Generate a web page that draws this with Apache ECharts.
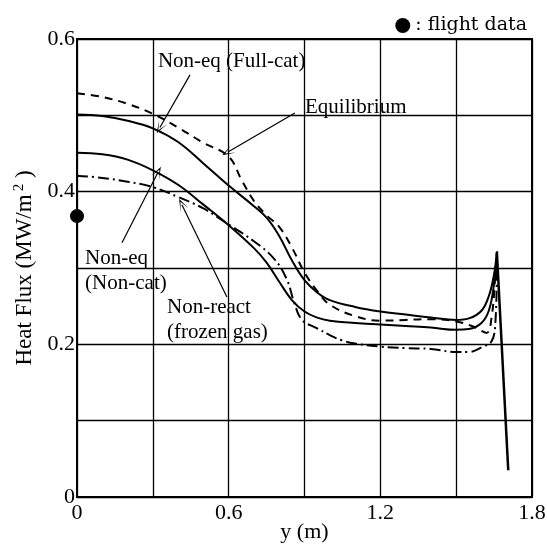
<!DOCTYPE html>
<html>
<head>
<meta charset="utf-8">
<script src="https://cdn.jsdelivr.net/npm/echarts@6/dist/echarts.min.js"></script>
<style>
html, body { margin: 0; padding: 0; background: #fff; }
#chart { width: 547px; height: 547px; }
</style>
</head>
<body>
<div id="chart"></div>
<script>
// curves, [y (m), heat flux (MW/m2)]
var fullCat = [[0, 0.501], [0.1, 0.499], [0.2, 0.493], [0.3, 0.483], [0.4, 0.465], [0.5, 0.437], [0.6, 0.408],
    [0.7, 0.381], [0.75, 0.366], [0.8, 0.342], [0.85, 0.310], [0.9, 0.284], [0.95, 0.268], [1.0, 0.258],
    [1.1, 0.249], [1.2, 0.243], [1.3, 0.239], [1.4, 0.235], [1.5, 0.232], [1.55, 0.234], [1.6, 0.244],
    [1.63, 0.264], [1.65, 0.292], [1.661, 0.321]];
var nonCat = [[0, 0.451], [0.1, 0.449], [0.2, 0.442], [0.3, 0.428], [0.4, 0.409], [0.5, 0.383], [0.6, 0.356],
    [0.7, 0.326], [0.75, 0.307], [0.8, 0.282], [0.85, 0.258], [0.9, 0.243], [0.95, 0.235], [1.0, 0.231],
    [1.1, 0.228], [1.2, 0.226], [1.3, 0.224], [1.4, 0.222], [1.5, 0.219], [1.55, 0.220], [1.6, 0.228],
    [1.63, 0.245], [1.65, 0.280], [1.661, 0.318]];
var equilibrium = [[0, 0.529], [0.1, 0.524], [0.2, 0.515], [0.3, 0.502], [0.4, 0.484], [0.5, 0.464], [0.6, 0.446],
    [0.65, 0.416], [0.7, 0.388], [0.75, 0.369], [0.8, 0.354], [0.85, 0.327], [0.9, 0.294], [0.95, 0.270],
    [1.0, 0.252], [1.1, 0.237], [1.2, 0.231], [1.3, 0.232], [1.4, 0.233], [1.5, 0.230], [1.57, 0.223],
    [1.62, 0.215], [1.64, 0.235], [1.655, 0.290], [1.662, 0.322]];
var nonReact = [[0, 0.421], [0.1, 0.418], [0.2, 0.413], [0.3, 0.406], [0.4, 0.393], [0.5, 0.378], [0.6, 0.357],
    [0.7, 0.335], [0.78, 0.312], [0.83, 0.285], [0.86, 0.254], [0.89, 0.232], [0.95, 0.221], [1.0, 0.212],
    [1.05, 0.205], [1.1, 0.201], [1.2, 0.197], [1.3, 0.195], [1.4, 0.194], [1.5, 0.190], [1.55, 0.190],
    [1.6, 0.196], [1.64, 0.204], [1.655, 0.228], [1.661, 0.300]];
// shared fall-off after the peak
var dropOff = [[1.661, 0.321], [1.706, 0.035]];
var flightData = [[0, 0.368]];

var xLabels = ['0', '0.6', '1.2', '1.8'];
var yLabels = ['0', '0.2', '0.4', '0.6'];

// text notes and arrows, in data units
var notes = [
    { text: 'Non-eq (Full-cat)', at: [0.32, 0.570] },
    { text: 'Equilibrium', at: [0.902, 0.510] },
    { text: 'Non-eq', at: [0.032, 0.312] },
    { text: '(Non-cat)', at: [0.032, 0.280] },
    { text: 'Non-react', at: [0.356, 0.248] },
    { text: '(frozen gas)', at: [0.356, 0.216] }
];
var arrows = [
    [[0.447, 0.553], [0.328, 0.484]],
    [[0.862, 0.503], [0.597, 0.452]],
    [[0.178, 0.333], [0.320, 0.425]],
    [[0.593, 0.262], [0.415, 0.383]]
];

var serif = '"Liberation Serif", "Times New Roman", serif';
var chartDom = document.getElementById('chart');
var myChart = echarts.init(chartDom);

function curve(name, data, type) {
    return {
        name: name,
        type: 'line',
        data: data,
        showSymbol: false,
        smooth: 0.4,
        silent: true,
        lineStyle: { color: '#000', width: 2, type: type }
    };
}

var option = {
    animation: false,
    backgroundColor: '#fff',
    grid: {
        left: 77, right: 15, top: 39, bottom: 50,
        outerBoundsMode: 'none',
        show: true, borderColor: '#000', borderWidth: 2
    },
    legend: {
        right: 15, top: 11,
        data: [': flight data'],
        icon: 'circle',
        itemWidth: 15, itemHeight: 15, itemGap: 12,
        itemStyle: { opacity: 1 },
        textStyle: { fontFamily: '"DejaVu Serif", serif', fontSize: 19, color: '#000' }
    },
    xAxis: {
        type: 'value',
        min: 0, max: 1.8, interval: 0.3,
        name: 'y (m)',
        nameLocation: 'middle',
        nameGap: 24,
        nameMoveOverlap: false,
        nameTextStyle: { fontFamily: serif, fontSize: 22, color: '#000' },
        axisLine: { show: true, lineStyle: { color: '#000', width: 2 } },
        axisTick: { show: false },
        axisLabel: {
            margin: 5,
            fontFamily: serif, fontSize: 22, color: '#000',
            formatter: function (v) {
                var s = String(+v.toFixed(2));
                return xLabels.indexOf(s) >= 0 ? s : '';
            }
        },
        splitLine: { show: true, lineStyle: { color: '#000', width: 1.3 } }
    },
    yAxis: {
        type: 'value',
        min: 0, max: 0.6, interval: 0.1,
        name: 'Heat Flux (MW/m{sup|2} )',
        nameLocation: 'middle',
        nameRotate: 90,
        nameGap: 40,
        nameMoveOverlap: false,
        nameTextStyle: {
            fontFamily: serif, fontSize: 23, color: '#000',
            rich: { sup: { fontFamily: serif, fontSize: 15, color: '#000', verticalAlign: 'top', padding: [0, 0, 10, 3] } }
        },
        axisLine: { show: true, lineStyle: { color: '#000', width: 2 } },
        axisTick: { show: false },
        axisLabel: {
            margin: 2,
            fontFamily: serif, fontSize: 22, color: '#000',
            formatter: function (v) {
                var s = String(+v.toFixed(2));
                return yLabels.indexOf(s) >= 0 ? s : '';
            }
        },
        splitLine: { show: true, lineStyle: { color: '#000', width: 1.3 } }
    },
    series: [
        curve('Non-eq (Full-cat)', fullCat, 'solid'),
        curve('Non-eq (Non-cat)', nonCat, 'solid'),
        curve('Equilibrium', equilibrium, [8, 6]),
        curve('Non-react (frozen gas)', nonReact, [11, 4, 2, 4]),
        {
            name: 'drop',
            type: 'line',
            data: dropOff,
            showSymbol: false,
            silent: true,
            lineStyle: { color: '#000', width: 2.5 }
        },
        {
            name: ': flight data',
            type: 'scatter',
            data: flightData,
            symbolSize: 14,
            clip: false,
            itemStyle: { color: '#000', opacity: 1 },
            z: 5
        },
        {
            type: 'line',
            data: [],
            silent: true,
            markLine: {
                silent: true,
                animation: false,
                symbol: ['none', 'path://M0,0L5,12L0,3L-5,12Z'],
                symbolSize: [9, 13],
                label: { show: false },
                lineStyle: { color: '#000', width: 1.2, type: 'solid' },
                data: arrows.map(function (a) {
                    return [{ coord: a[0] }, { coord: a[1] }];
                })
            }
        }
    ]
};

option && myChart.setOption(option);

// place the text notes once the axes exist
myChart.setOption({
    graphic: notes.map(function (n) {
        var p = myChart.convertToPixel({ gridIndex: 0 }, n.at);
        return {
            type: 'text',
            x: p[0], y: p[1],
            silent: true,
            style: {
                text: n.text,
                fontFamily: serif, fontSize: 21, fill: '#000',
                align: 'left', verticalAlign: 'middle'
            }
        };
    })
});

window.addEventListener('resize', function () {
    myChart.resize();
});
</script>
</body>
</html>
